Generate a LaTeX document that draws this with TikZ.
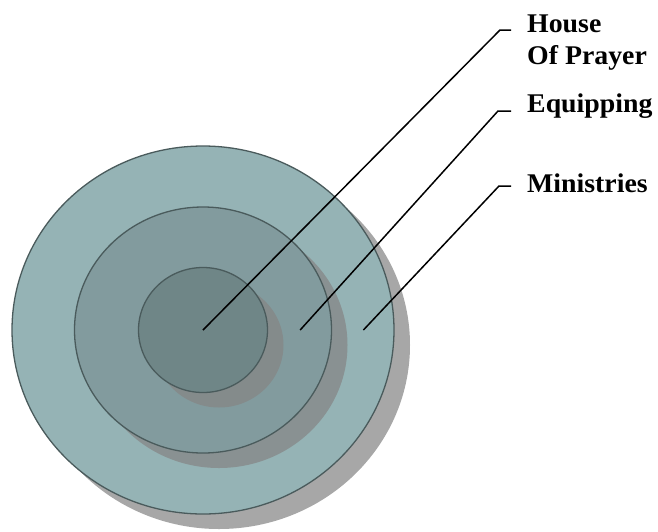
\documentclass[tikz,border=0pt]{standalone}
\usepackage{fontspec}
\setmainfont[FakeStretch=1.03]{Liberation Serif}
\usetikzlibrary{shapes.geometric, shadows, calc}
\definecolor{ringouter}{HTML}{95B3B5}
\definecolor{ringmid}{HTML}{829B9E}
\definecolor{ringcore}{HTML}{6F8687}
\definecolor{ringline}{HTML}{4A5B5C}
\definecolor{shadowgray}{HTML}{858585}

\begin{document}
\begin{tikzpicture}[x=1pt, y=-1pt,
    every node/.style={font=\bfseries\fontsize{27}{32}\selectfont},
    ring/.style={ellipse, draw=ringline, line width=1.3pt, inner sep=0pt,
        drop shadow={shadow xshift=16pt, shadow yshift=-15pt, fill=shadowgray, opacity=0.72}},
    pin/.style={draw=black, line width=1.5pt},
    tag/.style={anchor=base west, align=left, inner sep=0pt}
]
\useasboundingbox (0,0) rectangle (658,531);

% Rings
\node[ring, fill=ringouter, minimum width=382pt, minimum height=368pt] (outer) at (203,330) {};
\node[ring, fill=ringmid, minimum width=257pt, minimum height=246pt] (mid) at (203,330) {};
\node[ring, fill=ringcore, minimum width=129pt, minimum height=125pt] (core) at (203,330) {};

% Labels
\node[tag] (lblhouse) at (527,64) {House\\Of Prayer};
\node[tag] (lblequip) at (527,112) {Equipping};
\node[tag] (lblmin) at (527,192) {Ministries};

% Elbows
\coordinate (khouse) at (500,30);
\coordinate (ehouse) at (511,30);
\coordinate (kequip) at (498,111);
\coordinate (eequip) at (511,111);
\coordinate (kmin) at (499,186);
\coordinate (emin) at (511,186);

% Pointers
\draw[pin] (core.center) -- (khouse) -- (ehouse);
\draw[pin] ($(core.east)!0.5!(mid.east)$) -- (kequip) -- (eequip);
\draw[pin] ($(mid.east)!0.5!(outer.east)$) -- (kmin) -- (emin);
\end{tikzpicture}
\end{document}
